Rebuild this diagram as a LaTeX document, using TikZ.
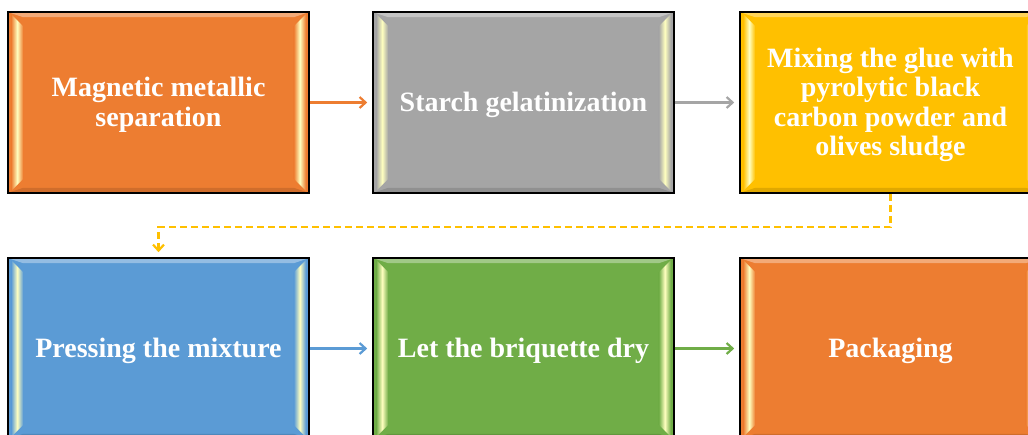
\documentclass[tikz,border=0pt]{standalone}
\usepackage{fontspec}
\setmainfont{Liberation Serif}
\usetikzlibrary{arrows.meta,calc}
\definecolor{cOrange}{HTML}{ED7D31}
\definecolor{cGray}{HTML}{A5A5A5}
\definecolor{cYellow}{HTML}{FFC000}
\definecolor{cBlue}{HTML}{5B9BD5}
\definecolor{cGreen}{HTML}{70AD47}
\tikzset{
  procbox/.style={draw=black, line width=1.6pt, minimum width=301pt, minimum height=181pt,
    inner sep=0pt, text=white, align=center, font=\bfseries\fontsize{28}{29.5}\selectfont},
  flowarrow/.style={line width=2.4pt, -{Straight Barb[length=6pt,width=11pt,line width=2.2pt]}},
  dashflow/.style={line width=2.4pt, dash pattern=on 7pt off 4pt, -{Straight Barb[length=6pt,width=11pt,line width=2.2pt]}}
}
\newcommand{\bevelbox}[2]{%
  \shade[left color=#2, right color=#2, middle color=white!75!yellow]
    ($(#1.north west)+(4,3)$) -- ($(#1.north west)+(16,15)$) -- ($(#1.south west)+(16,-15)$) -- ($(#1.south west)+(4,-3)$) -- cycle;
  \shade[left color=#2, right color=#2, middle color=white!75!yellow]
    ($(#1.north east)+(-4,3)$) -- ($(#1.north east)+(-16,15)$) -- ($(#1.south east)+(-16,-15)$) -- ($(#1.south east)+(-4,-3)$) -- cycle;
  \fill[white, opacity=0.35] ($(#1.north west)+(4,2)$) -- ($(#1.north east)+(-4,2)$) -- ($(#1.north east)+(-16,6)$) -- ($(#1.north west)+(16,6)$) -- cycle;
  \fill[black, opacity=0.12] ($(#1.south west)+(4,-2)$) -- ($(#1.south east)+(-4,-2)$) -- ($(#1.south east)+(-16,-6)$) -- ($(#1.south west)+(16,-6)$) -- cycle;
}
\begin{document}
\begin{tikzpicture}[x=1pt,y=-1pt]
\useasboundingbox (0,0) rectangle (1028,434);
% boxes
\node[procbox, fill=cOrange] (b1) at (158.5,102.5) {};
\node[procbox, fill=cGray]   (b2) at (523.5,102.5) {};
\node[procbox, fill=cYellow] (b3) at (890.5,102.5) {};
\node[procbox, fill=cBlue]   (b4) at (158.5,348.5) {};
\node[procbox, fill=cGreen]  (b5) at (523.5,348.5) {};
\node[procbox, fill=cOrange] (b6) at (890.5,348.5) {};
\bevelbox{b1}{cOrange}
\bevelbox{b2}{cGray}
\bevelbox{b3}{cYellow}
\bevelbox{b4}{cBlue}
\bevelbox{b5}{cGreen}
\bevelbox{b6}{cOrange}
% texts
\node[procbox, draw=none] (t1) at ([yshift=-2.5pt]b1.center) {Magnetic metallic\\separation};
\node[procbox, draw=none] (t2) at ([yshift=-2.5pt]b2.center) {Starch gelatinization};
\node[procbox, draw=none] (t3) at ([yshift=-2.5pt]b3.center) {Mixing the glue with\\pyrolytic black\\carbon powder and\\olives sludge};
\node[procbox, draw=none] (t4) at ([yshift=-2.5pt]b4.center) {Pressing the mixture};
\node[procbox, draw=none] (t5) at ([yshift=-2.5pt]b5.center) {Let the briquette dry};
\node[procbox, draw=none] (t6) at ([yshift=-2.5pt]b6.center) {Packaging};
% connectors
\draw[flowarrow, draw=cOrange] (b1.east) -- ([xshift=-5pt]b2.west);
\draw[flowarrow, draw=cGray] (b2.east) -- ([xshift=-5pt]b3.west);
\draw[dashflow, draw=cYellow] (b3.south) -- ++(0,33) -| ([yshift=5pt]b4.north);
\draw[flowarrow, draw=cBlue] (b4.east) -- ([xshift=-5pt]b5.west);
\draw[flowarrow, draw=cGreen] (b5.east) -- ([xshift=-5pt]b6.west);
\end{tikzpicture}
\end{document}
